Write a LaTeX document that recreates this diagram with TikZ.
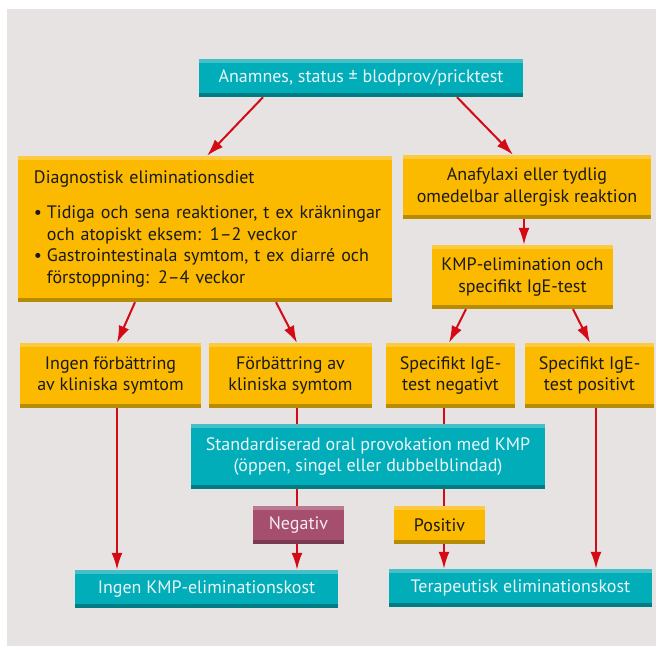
\documentclass[tikz,border=0pt]{standalone}
\usepackage{fontspec}
\setmainfont{PT Sans}
\usetikzlibrary{arrows.meta,positioning}

\definecolor{bgcol}{HTML}{E8E3E3}
\definecolor{tealmid}{HTML}{00ADB9}
\definecolor{tealtop}{HTML}{45C0C9}
\definecolor{tealbot}{HTML}{007D84}
\definecolor{tealtxt}{HTML}{EAF6F7}
\definecolor{yelmid}{HTML}{FBB900}
\definecolor{yeltop}{HTML}{FDC93E}
\definecolor{yelbot}{HTML}{B88B05}
\definecolor{yeltxt}{HTML}{1A1A1A}
\definecolor{marmid}{HTML}{A64E6E}
\definecolor{martop}{HTML}{BC7A92}
\definecolor{marbot}{HTML}{7B3A53}
\definecolor{martxt}{HTML}{F6ECEF}
\definecolor{arrowred}{HTML}{D40A14}

\begin{document}
\begin{tikzpicture}[x=1pt, y=1pt, >={Latex[length=17pt,width=11pt]}, node distance=180pt,
    box/.style={rectangle, inner sep=0pt, align=center, font=\fontsize{18}{21.5}\selectfont},
    band/.style n args={3}{fill=#1, path picture={
        \fill[#2] (path picture bounding box.north west) rectangle ([yshift=-4pt]path picture bounding box.north east);
        \fill[#3] ([yshift=4pt]path picture bounding box.south west) rectangle (path picture bounding box.south east);}},
    tealbox/.style={box, band={tealmid}{tealtop}{tealbot}, text=tealtxt},
    yelbox/.style={box, band={yelmid}{yeltop}{yelbot}, text=yeltxt},
    marbox/.style={box, band={marmid}{martop}{marbot}, text=martxt},
    flow/.style={draw=arrowred, line width=2pt}]

    \useasboundingbox (0,0) rectangle (656,646);
    \fill[bgcol] (7,0) rectangle (656,637);

    % top row
    \node[tealbox, minimum width=324pt, minimum height=38pt] (anam) at (361,568) {Anamnes, status ± blodprov/pricktest};
    \node[yelbox, minimum width=374pt, minimum height=146pt, text width=342pt, inner xsep=16pt, align=left] (diag) at (205,417)
        {Diagnostisk eliminationsdiet\\[14pt]
         \makebox[13pt][l]{•}\mbox{Tidiga och sena reaktioner, t ex kräkningar}\\
         \hspace*{13pt}och atopiskt eksem: 1–2 veckor\\
         \makebox[13pt][l]{•}\mbox{Gastrointestinala symtom, t ex diarré och}\\
         \hspace*{13pt}förstoppning: 2–4 veckor};
    \node[yelbox, minimum width=248pt, minimum height=64pt] (anaf) at (527,459) {Anafylaxi eller tydlig\\omedelbar allergisk reaktion};
    \node[yelbox, minimum width=181pt, minimum height=64pt] (kmp) at (522.5,369) {KMP-elimination och\\specifikt IgE-test};

    % middle row
    \node[yelbox, minimum width=181pt, minimum height=65pt] (ingen) at (110.5,270.5) {Ingen förbättring\\av kliniska symtom};
    \node[yelbox, minimum width=163pt, minimum height=65pt, right of=ingen] (forb) {Förbättring av\\kliniska symtom};
    \node[yelbox, minimum width=129pt, minimum height=65pt, right of=forb, node distance=160pt] (igeneg) {Specifikt IgE-\\test negativt};
    \node[yelbox, minimum width=129pt, minimum height=65pt, right of=igeneg, node distance=139pt] (igepos) {Specifikt IgE-\\test positivt};

    \node[tealbox, minimum width=354pt, minimum height=65pt] (prov) at (368,189.5) {Standardiserad oral provokation med KMP\\(öppen, singel eller dubbelblindad)};
    \node[marbox, minimum width=91pt, minimum height=38pt] (negativ) at (298.5,121) {Negativ};
    \node[yelbox, minimum width=91pt, minimum height=38pt, right of=negativ, node distance=141pt] (positiv) {Positiv};

    % bottom row
    \node[tealbox, minimum width=263pt, minimum height=38pt] (nokost) at (206.5,57) {Ingen KMP-eliminationskost};
    \node[tealbox, minimum width=263pt, minimum height=38pt] (terkost) at (520.5,58) {Terapeutisk eliminationskost};

    \draw[flow, ->] ([xshift=-98pt]anam.south) -- ([xshift=2pt]diag.north);
    \draw[flow, ->] ([xshift=96pt]anam.south) -- ([xshift=-14pt]anaf.north);
    \draw[flow, ->] ([xshift=-3pt]anaf.south) -- ([xshift=1.5pt]kmp.north);
    \draw[flow, ->] ([xshift=-70pt]diag.south) -- ([xshift=6.5pt]ingen.north);
    \draw[flow, ->] ([xshift=71pt]diag.south) -- ([xshift=6.5pt]forb.north);
    \draw[flow, ->] ([xshift=-56.5pt]kmp.south) -- ([xshift=-1.5pt]igeneg.north);
    \draw[flow, ->] ([xshift=50.5pt]kmp.south) -- ([xshift=0.5pt]igepos.north);

    \draw[flow, ->] ([xshift=6.5pt]ingen.south) -- ([xshift=-89.5pt]nokost.north);
    \draw[flow] ([xshift=6.5pt]forb.south) -- ([xshift=-71pt]prov.north);
    \draw[flow] ([xshift=-6.5pt]igeneg.south) -- ([xshift=76pt]prov.north);
    \draw[flow] ([xshift=-71pt]prov.south) -- ([xshift=-1.5pt]negativ.north);
    \draw[flow] ([xshift=76pt]prov.south) -- ([xshift=4.5pt]positiv.north);
    \draw[flow, ->] ([xshift=-1.5pt]negativ.south) -- ([xshift=90.5pt]nokost.north);
    \draw[flow, ->] ([xshift=4.5pt]positiv.south) -- ([xshift=-76.5pt]terkost.north);
    \draw[flow, ->] ([xshift=6.5pt]igepos.south) -- ([xshift=75.5pt]terkost.north);
\end{tikzpicture}
\end{document}
